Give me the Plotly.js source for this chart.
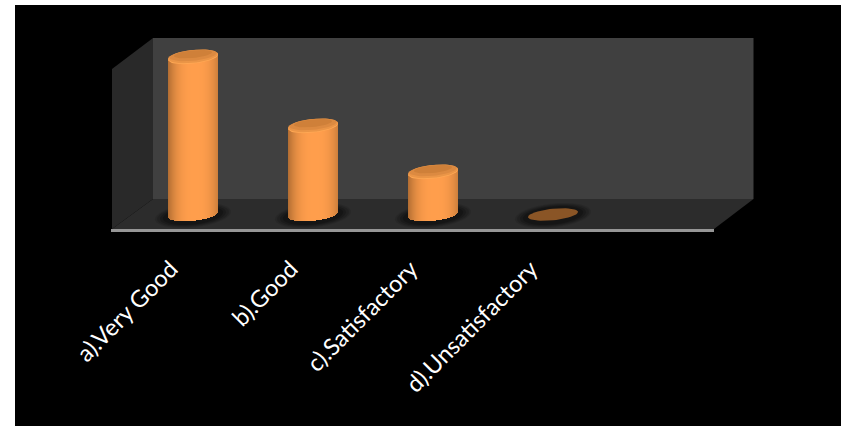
<!DOCTYPE html>
<html><head><meta charset="utf-8">
<script src="https://cdn.plot.ly/plotly-3.0.1.min.js"></script>
<style>html,body{margin:0;padding:0;background:#fff}#c{width:854px;height:426px}</style>
</head><body><div id="c"></div>
<script>
const categories = ["a).Very Good","b).Good","c).Satisfactory","d).Unsatisfactory"];
const values = [55,31,15,0];

const W=854,H=426;
const plotL=15,plotR=841,plotT=5;
const cat0=193,catStep=120;          // pixel centre of first category, spacing
const y0px=214.5,pxPerUnit=2.875;    // pixel of value 0, scale
const radius=25,ry=6.4,tilt=-0.10;   // cylinder ellipse in px
const labelShiftPx=-22;

const xr=[(plotL-cat0)/catStep,(plotR-cat0)/catStep];
const yr=[(y0px-H)/pxPerUnit,(y0px-plotT)/pxPerUnit];
const dxU=px=>px/catStep, dyU=px=>-px/pxPerUnit;
const P=(x,y)=>(x/W).toFixed(5)+','+(1-y/H).toFixed(5);
const poly=(pts,fill)=>({type:'path',xref:'paper',yref:'paper',layer:'below',
  path:'M'+pts.map(p=>P(p[0],p[1])).join(' L')+' Z',fillcolor:fill,line:{width:0}});
const positions=categories.map((c,i)=>i);

// room: back wall, left wall, floor, front edge
const shapes=[
  poly([[153,38],[753.5,38],[753.5,199],[153,199]],'#404040'),
  poly([[112,69],[153,38],[153,199],[112,229]],'#292929'),
  poly([[112,229],[153,199],[753.5,199],[714,229]],'#2c2c2c'),
  poly([[111,229],[714,229],[714,232],[111,232]],'#969696')
];

function ellipse(i,val,a,b,dy){
  const xs=[],ys=[];
  for(let k=0;k<=48;k++){
    const t=k/48*2*Math.PI, px=a*Math.cos(t), py=b*Math.sin(t)+tilt*px+(dy||0);
    xs.push(i+dxU(px)); ys.push(val+dyU(py));
  }
  return {x:xs,y:ys};
}
const traces=[];
function addEllipse(i,val,a,b,dy,color){
  const e=ellipse(i,val,a,b,dy);
  traces.push({type:'scatter',mode:'lines',x:e.x,y:e.y,fill:'toself',fillcolor:color,
    line:{width:0,color:color},hoverinfo:'skip',showlegend:false});
}
// soft floor shadows, kept under the bars as below-layer shapes on the data axes
values.forEach((v,i)=>{
  [[38,12,'rgba(0,0,0,0.10)'],[36,11,'rgba(0,0,0,0.14)'],[33,10,'rgba(0,0,0,0.18)'],[30,9,'rgba(0,0,0,0.22)']]
   .forEach(s=>{
     const e=ellipse(i,0,s[0],s[1],1);
     shapes.push({type:'path',xref:'x',yref:'y',layer:'below',fillcolor:s[2],line:{width:0},
       path:'M'+e.x.map((x,k)=>x.toFixed(4)+','+e.y[k].toFixed(4)).join(' L')+' Z'});
   });
});
// cylinder bodies as shaded vertical strips, heights come from the values
const mix=(a,b,t)=>a.map((c,j)=>Math.round(c+(b[j]-c)*t));
const dark=[176,108,50],bright=[255,158,76];
const n=50;
for(let s=0;s<n;s++){
  const u=-1+2*(s+0.5)/n, px=u*radius;
  const d=Math.abs(u-0.08)/1.08;
  const c=mix(bright,dark,Math.pow(d,2.8));
  const arc=ry*Math.sqrt(Math.max(0,1-u*u))+tilt*px;
  traces.push({type:'bar',x:positions,
    y:values,
    base:values.map(()=>dyU(arc)),
    offset:dxU(px-0.75),width:dxU(1.5),
    marker:{color:values.map(()=>`rgb(${c})`),line:{width:0}},
    hoverinfo:'skip',showlegend:false});
}
// bar tops and the flat zero-value disc
values.forEach((v,i)=>{
  if(v>0){
    addEllipse(i,v,radius,ry,0.9,'#ffa854');
    addEllipse(i,v,radius,ry,0,'#ea9547');
    addEllipse(i,v,radius-1.5,ry-1,-1,'#dc8a41');
    addEllipse(i,v,radius-6,ry-2.6,-2.2,'#cf8039');
  } else {
    addEllipse(i,v,radius,ry-0.6,0,'#8a5526');
  }
});

const layout={
  width:W,height:H,margin:{l:0,r:0,t:0,b:0},
  paper_bgcolor:'#ffffff',plot_bgcolor:'#000000',
  showlegend:false,barmode:'overlay',bargap:0,
  xaxis:{type:'linear',tickmode:'array',
    tickvals:positions.map(p=>p+dxU(labelShiftPx)),ticktext:categories,
    domain:[plotL/W,plotR/W],range:xr,anchor:'free',position:1-232/H,
    showline:false,showgrid:false,zeroline:false,
    ticks:'outside',ticklen:13,tickcolor:'rgba(0,0,0,0)',tickwidth:1,
    tickangle:-45,tickfont:{family:'Lato, Carlito, sans-serif',size:23.5,color:'#ffffff'}},
  yaxis:{domain:[0,1-plotT/H],range:yr,visible:false,showgrid:false,zeroline:false},
  shapes:shapes
};
Plotly.newPlot('c',traces,layout,{displayModeBar:false,staticPlot:true});
</script></body></html>
